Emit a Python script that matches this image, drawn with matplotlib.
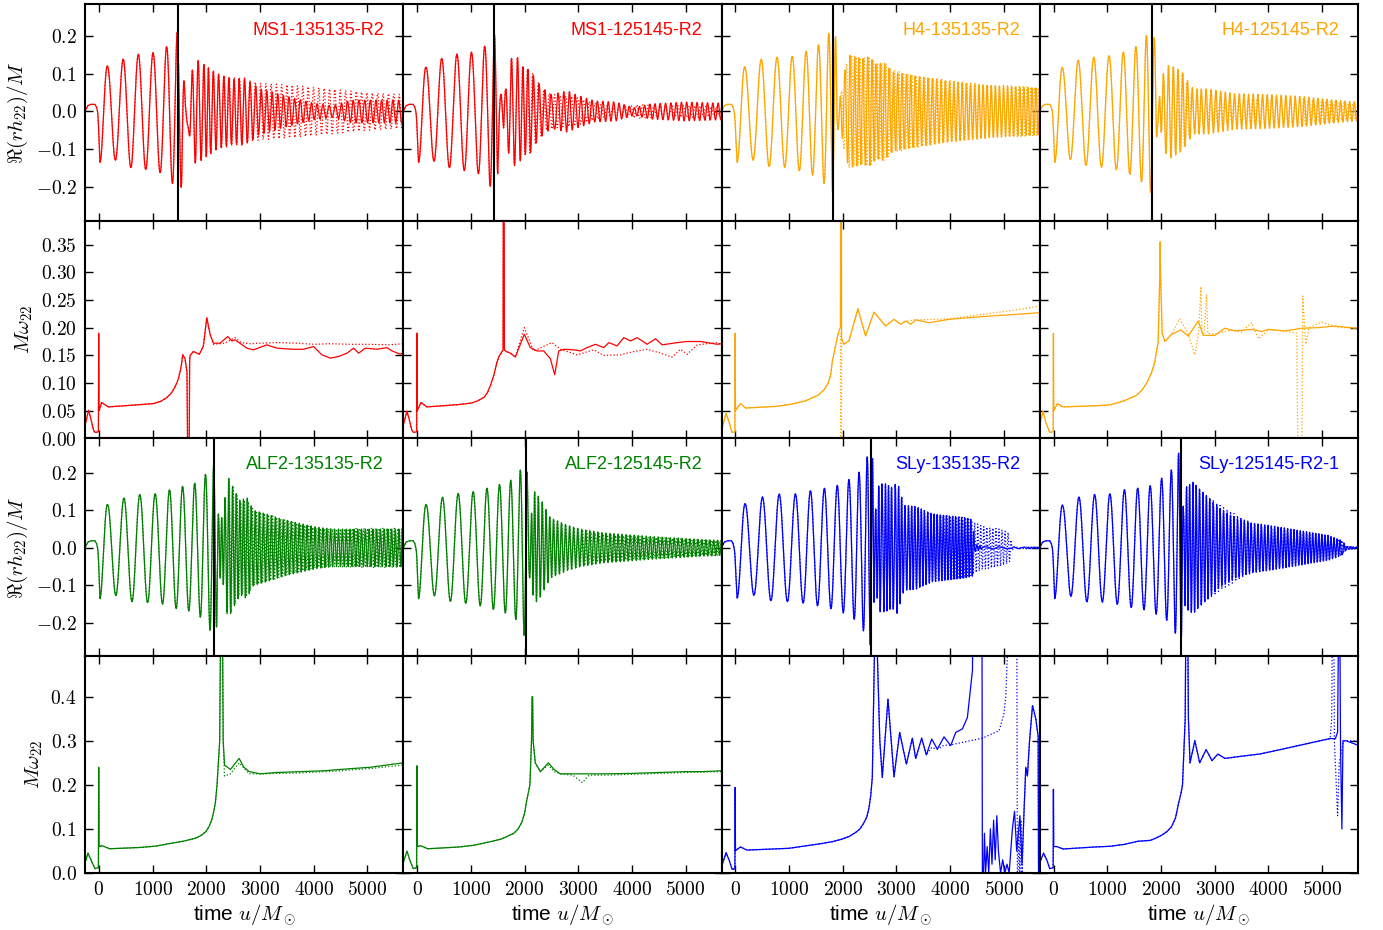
import numpy as np
import matplotlib
matplotlib.use("Agg")
import matplotlib.pyplot as plt
from matplotlib.ticker import FuncFormatter, MultipleLocator

plt.rcParams['font.family'] = ['Liberation Sans', 'DejaVu Sans']
plt.rcParams['mathtext.fontset'] = 'cm'

M_TOTAL = 2.7  # total mass in M_sun, converts M*omega to 1/M_sun

# ---------------- data ----------------
# common junk-radiation precursor of Re(r h22)/M (t, value)
precursor = [(-260, 0.0), (-212, 0.015), (-150, 0.019), (-75, 0.019), (-45, 0.012), (-25, 0.0)]

# ---- MS1-135135-R2 ----
ms1a_w_hi = [(-260, 0.024), (-193, 0.051), (-150, 0.035), (-100, 0.015), (-75, 0.011), (-10, 0.012), (-5, 0.19),
             (0, 0.05), (10, 0.052), (50, 0.065), (174, 0.057), (749, 0.061), (1022, 0.063), (1150, 0.067),
             (1265, 0.074), (1340, 0.081), (1400, 0.09), (1445, 0.099), (1480, 0.108), (1515, 0.122), (1540, 0.135),
             (1560, 0.151), (1604, 0.144), (1640, 0.12), (1655, -0.05),
             (1680, -0.05), (1690, 0.14), (1698, 0.15), (1760, 0.157), (1871, 0.152), (1946, 0.167), (2009, 0.218),
             (2071, 0.188), (2133, 0.172), (2257, 0.172), (2401, 0.184), (2476, 0.176), (2537, 0.178), (2755, 0.163),
             (2879, 0.160), (3128, 0.169), (3315, 0.163), (3625, 0.161), (3812, 0.161), (3998, 0.166), (4154, 0.151),
             (4310, 0.145), (4465, 0.148), (4621, 0.154), (4745, 0.163), (4838, 0.154), (4963, 0.163), (5181, 0.161),
             (5367, 0.164), (5460, 0.158), (5616, 0.152), (5670, 0.155)]
ms1a_w_lo = [(2133, 0.170), (2257, 0.171), (2350, 0.172), (2450, 0.178), (2537, 0.182), (2650, 0.173), (2800, 0.171),
             (3000, 0.172), (3300, 0.173), (3700, 0.172), (4000, 0.170), (4300, 0.171), (4700, 0.170), (5000, 0.170),
             (5400, 0.169), (5670, 0.171)]
ms1a_a_hi = [(-25, 0.0), (19, 0.135), (162, 0.12), (317, 0.13), (466, 0.14), (610, 0.15), (752, 0.152), (888, 0.154),
             (1026, 0.156), (1157, 0.163), (1262, 0.172), (1373, 0.192), (1448, 0.212), (1542, 0.2), (1570, 0.12),
             (1610, 0.03), (1660, 0.04), (1720, 0.1), (1800, 0.14), (1900, 0.13), (2000, 0.12), (2200, 0.1),
             (2500, 0.085), (2700, 0.09), (3000, 0.06), (3500, 0.04), (4000, 0.022), (4350, 0.015), (4700, 0.03),
             (5200, 0.03), (5670, 0.03)]
ms1a_a_lo = [(2000, 0.12), (2200, 0.1), (2500, 0.09), (2700, 0.085), (3000, 0.075), (3600, 0.07), (4300, 0.06),
             (5000, 0.05), (5670, 0.045)]

# ---- MS1-125145-R2 ----
ms1b_w_hi = [(-260, 0.024), (-192, 0.049), (-150, 0.035), (-100, 0.015), (-69, 0.011), (-10, 0.012), (-5, 0.19),
             (0, 0.05), (10, 0.052), (69, 0.065), (181, 0.057), (750, 0.061), (1014, 0.064), (1130, 0.068),
             (1253, 0.075), (1310, 0.083), (1362, 0.095), (1430, 0.115), (1487, 0.138), (1530, 0.149),
             (1562, 0.154), (1600, 0.16), (1607, 0.6), (1618, 0.6), (1625, 0.16),
             (1660, 0.157), (1735, 0.154), (1828, 0.147), (1996, 0.188), (2108, 0.164), (2233, 0.158), (2357, 0.158),
             (2481, 0.144), (2562, 0.115), (2637, 0.158), (2731, 0.161), (2917, 0.160), (3041, 0.158), (3166, 0.164),
             (3321, 0.170), (3476, 0.164), (3570, 0.173), (3725, 0.167), (3849, 0.182), (3974, 0.176), (4098, 0.182),
             (4285, 0.170), (4440, 0.18), (4564, 0.169), (4844, 0.173), (5030, 0.175), (5280, 0.175), (5591, 0.170),
             (5670, 0.171)]
ms1b_w_lo = [(1996, 0.2), (2170, 0.158), (2512, 0.173), (2668, 0.161), (2979, 0.151), (3290, 0.160), (3470, 0.15),
             (3787, 0.151), (4036, 0.157), (4285, 0.161), (4502, 0.155), (4751, 0.147), (4907, 0.161), (5030, 0.152),
             (5218, 0.169), (5591, 0.173), (5670, 0.17)]
ms1b_a_hi = [(-25, 0.0), (25, 0.135), (168, 0.117), (323, 0.133), (479, 0.142), (616, 0.15), (752, 0.152), (883, 0.157),
             (1020, 0.157), (1144, 0.165), (1269, 0.174), (1362, 0.199), (1455, 0.205), (1499, 0.17), (1530, 0.05),
             (1600, 0.04), (1650, 0.06), (1735, 0.14), (1860, 0.145), (1985, 0.115), (2109, 0.11), (2233, 0.08),
             (2358, 0.06), (2500, 0.045), (2800, 0.055), (2950, 0.045), (3300, 0.028), (3700, 0.025), (4036, 0.01),
             (4350, 0.02), (5000, 0.025), (5670, 0.022)]
ms1b_a_lo = [(2109, 0.11), (2233, 0.08), (2400, 0.05), (2700, 0.04), (2900, 0.04), (3300, 0.022), (3700, 0.01),
             (4100, 0.018), (4600, 0.015), (5200, 0.015), (5670, 0.012)]

# ---- H4-135135-R2 ----
h4a_w_hi = [(-260, 0.015), (-174, 0.045), (-120, 0.03), (-62, 0.011), (-10, 0.012), (-5, 0.19), (0, 0.05), (10, 0.052),
            (93, 0.063), (187, 0.055), (768, 0.058), (1048, 0.062), (1306, 0.068), (1540, 0.078), (1650, 0.088),
            (1730, 0.10), (1775, 0.115), (1803, 0.138), (1860, 0.165), (1915, 0.19), (1955, 0.2), (1962, 0.6),
            (1970, 0.6), (1978, 0.18), (2021, 0.17),
            (2114, 0.176), (2282, 0.234), (2425, 0.185), (2581, 0.228), (2799, 0.203), (2954, 0.215), (3078, 0.206),
            (3172, 0.212), (3265, 0.206), (3358, 0.214), (3607, 0.209), (3980, 0.215), (4602, 0.22), (5224, 0.224),
            (5670, 0.227)]
h4a_w_lo = [(1955, 0.19), (1962, -0.3), (1970, -0.3), (1978, 0.18), (2021, 0.17), (2114, 0.176), (2282, 0.234),
            (2425, 0.185), (2581, 0.228), (2799, 0.203), (2954, 0.215), (3078, 0.206), (3172, 0.212), (3358, 0.214),
            (3980, 0.216), (4602, 0.224), (5224, 0.232), (5670, 0.239)]
h4a_a_hi = [(-25, 0.0), (31, 0.135), (187, 0.117), (342, 0.13), (485, 0.139), (622, 0.146), (778, 0.144), (914, 0.148),
            (1057, 0.146), (1182, 0.157), (1306, 0.159), (1431, 0.168), (1555, 0.177), (1648, 0.19), (1754, 0.21),
            (1815, 0.217), (1872, 0.195), (1900, 0.05), (1960, 0.04), (2021, 0.1), (2114, 0.15), (2364, 0.14),
            (2488, 0.146), (2631, 0.125), (2768, 0.13), (2923, 0.105), (3358, 0.094), (3980, 0.08), (4602, 0.07),
            (5670, 0.062)]
h4a_a_lo = [(2631, 0.125), (2768, 0.13), (2923, 0.11), (3358, 0.095), (3980, 0.082), (4602, 0.072), (5670, 0.063)]

# ---- H4-125145-R2 ----
h4b_w_hi = [(-260, 0.024), (-199, 0.049), (-150, 0.03), (-75, 0.011), (-10, 0.012), (-5, 0.19), (0, 0.05), (10, 0.052),
            (68, 0.063), (170, 0.057), (765, 0.059), (1048, 0.0606), (1312, 0.068), (1545, 0.078), (1650, 0.088),
            (1738, 0.101), (1820, 0.118), (1884, 0.138), (1920, 0.16), (1946, 0.173), (1978, 0.3), (1984, 0.355),
            (1990, 0.3), (2021, 0.19), (2071, 0.175),
            (2196, 0.188), (2369, 0.196), (2506, 0.185), (2693, 0.212), (2786, 0.186), (3004, 0.186), (3190, 0.199),
            (3377, 0.194), (3688, 0.197), (3875, 0.193), (3998, 0.197), (4310, 0.194), (4621, 0.199), (4932, 0.2),
            (5243, 0.203), (5616, 0.199), (5670, 0.2)]
h4b_w_lo = [(2351, 0.216), (2500, 0.19), (2631, 0.151), (2700, 0.19), (2743, 0.274), (2760, 0.19), (2800, 0.19),
            (2848, 0.26), (2870, 0.19), (3000, 0.188), (3300, 0.196), (3500, 0.192), (3688, 0.209), (3813, 0.18),
            (4000, 0.196), (4300, 0.194), (4530, 0.19), (4570, -0.3), (4610, -0.3), (4640, 0.257), (4695, 0.17),
            (4760, 0.2), (4994, 0.21), (5300, 0.2), (5670, 0.2)]
h4b_a_hi = [(-25, 0.0), (19, 0.135), (174, 0.115), (317, 0.128), (472, 0.137), (622, 0.144), (765, 0.144), (908, 0.148),
            (1057, 0.148), (1188, 0.155), (1312, 0.158), (1437, 0.168), (1543, 0.173), (1654, 0.189), (1748, 0.205),
            (1822, 0.217), (1897, 0.186), (1930, 0.04), (1990, 0.04), (2040, 0.1), (2152, 0.125), (2332, 0.11),
            (2413, 0.1), (2600, 0.06), (2873, 0.06), (3377, 0.047), (3998, 0.045), (4621, 0.04), (5243, 0.03),
            (5670, 0.025)]
h4b_a_lo = [(2413, 0.1), (2550, 0.05), (2900, 0.035), (3400, 0.03), (4000, 0.035), (4621, 0.035), (5243, 0.025),
            (5670, 0.02)]

# ---- ALF2-135135-R2 ----
alfa_w_hi = [(-260, 0.023), (-205, 0.045), (-150, 0.03), (-75, 0.01), (-10, 0.012), (-5, 0.24), (0, 0.06), (10, 0.06),
             (60, 0.062), (200, 0.055), (775, 0.058), (1060, 0.061), (1325, 0.067), (1567, 0.072), (1800, 0.079),
             (1900, 0.085), (1993, 0.094), (2050, 0.105), (2100, 0.12), (2140, 0.14), (2170, 0.16), (2200, 0.2),
             (2250, 0.3), (2275, 0.7), (2295, 0.7),
             (2315, 0.3), (2340, 0.245), (2450, 0.235), (2612, 0.26), (2700, 0.24), (2800, 0.23), (3004, 0.225),
             (3300, 0.228), (3750, 0.23), (4200, 0.232), (4496, 0.235), (5056, 0.24), (5670, 0.25)]
alfa_w_lo = [(2340, 0.22), (2450, 0.225), (2612, 0.25), (2800, 0.225), (3004, 0.225), (3750, 0.227), (4496, 0.232),
             (5056, 0.237), (5670, 0.245)]
alfa_a_hi = [(-25, 0.0), (19, 0.135), (162, 0.115), (330, 0.128), (473, 0.133), (628, 0.144), (777, 0.142), (921, 0.146),
             (1057, 0.144), (1200, 0.15), (1325, 0.155), (1449, 0.162), (1573, 0.164), (1685, 0.168), (1810, 0.173),
             (1903, 0.186), (1996, 0.197), (2083, 0.224), (2146, 0.22), (2195, 0.21), (2230, 0.08), (2300, 0.08),
             (2400, 0.19), (2537, 0.15), (2631, 0.125), (2755, 0.135), (2879, 0.1), (3128, 0.09), (3439, 0.075),
             (3750, 0.065), (4061, 0.055), (4372, 0.05), (5000, 0.05), (5670, 0.05)]
alfa_a_lo = [(2537, 0.15), (2631, 0.12), (2755, 0.13), (2879, 0.1), (3128, 0.09), (3439, 0.075), (3750, 0.063),
             (4061, 0.052), (4372, 0.05), (5000, 0.052), (5670, 0.052)]

# ---- ALF2-125145-R2 ----
alfb_w_hi = [(-260, 0.023), (-190, 0.05), (-140, 0.03), (-75, 0.01), (-10, 0.012), (-5, 0.243), (0, 0.06), (10, 0.06),
             (60, 0.062), (200, 0.055), (775, 0.059), (1060, 0.063), (1325, 0.07), (1567, 0.077), (1800, 0.09),
             (1880, 0.1), (1950, 0.115), (2000, 0.135), (2034, 0.16), (2100, 0.2), (2130, 0.3), (2140, 0.4),
             (2150, 0.4), (2160, 0.3), (2200, 0.25),
             (2295, 0.23), (2444, 0.25), (2550, 0.235), (2668, 0.225), (3000, 0.225), (3500, 0.225), (4000, 0.226),
             (4500, 0.228), (5000, 0.23), (5336, 0.23), (5670, 0.232)]
alfb_w_lo = [(2444, 0.245), (2550, 0.23), (2668, 0.225), (2900, 0.222), (3078, 0.205), (3200, 0.222), (3500, 0.222),
             (4000, 0.224), (4500, 0.226), (5000, 0.228), (5670, 0.23)]
alfb_a_hi = [(-25, 0.0), (25, 0.135), (170, 0.115), (330, 0.128), (480, 0.135), (630, 0.143), (780, 0.145), (920, 0.148),
             (1060, 0.15), (1200, 0.155), (1330, 0.16), (1450, 0.165), (1570, 0.17), (1690, 0.175), (1800, 0.185),
             (1900, 0.2), (1960, 0.22), (2010, 0.24), (2050, 0.2), (2080, 0.08), (2120, 0.08), (2180, 0.15),
             (2300, 0.13), (2480, 0.08), (2800, 0.06), (3040, 0.05), (3470, 0.04), (4400, 0.03), (5336, 0.022),
             (5670, 0.02)]
alfb_a_lo = [(2300, 0.13), (2480, 0.08), (2800, 0.06), (3040, 0.05), (3470, 0.035), (4400, 0.028), (5336, 0.02),
             (5670, 0.02)]

# ---- SLy-135135-R2 ----
slya_w_hi = [(-260, 0.015), (-174, 0.046), (-120, 0.03), (-62, 0.008), (-10, 0.01), (-5, 0.194), (0, 0.05), (10, 0.052),
             (93, 0.059), (218, 0.052), (995, 0.056), (1617, 0.067), (1800, 0.071), (1990, 0.077), (2120, 0.083),
             (2239, 0.092), (2320, 0.1), (2394, 0.114), (2450, 0.128), (2488, 0.148), (2520, 0.175),
             (2550, 0.217), (2590, 0.5), (2600, 0.9), (2625, 0.9), (2643, 0.5), (2690, 0.3),
             (2736, 0.217), (2842, 0.395), (2954, 0.218), (3060, 0.319), (3185, 0.247), (3296, 0.306), (3358, 0.26),
             (3470, 0.306), (3557, 0.268), (3657, 0.304), (3762, 0.281), (3887, 0.309), (4011, 0.289), (4104, 0.319),
             (4229, 0.327), (4322, 0.353), (4416, 0.46), (4447, 0.9), (4590, 0.9), (4602, -0.1), (4640, 0.09),
             (4660, 0.0), (4690, 0.06), (4720, 0.0), (4750, 0.1), (4780, 0.02), (4810, 0.12), (4840, 0.03),
             (4870, 0.13), (4900, 0.05), (4940, 0.0), (4980, 0.03), (5020, 0.0), (5060, 0.02), (5100, 0.0),
             (5160, 0.1), (5200, 0.14), (5240, 0.05), (5300, 0.13), (5340, 0.02), (5380, 0.15), (5410, 0.24),
             (5440, 0.22), (5480, 0.3), (5535, 0.38), (5597, 0.35), (5640, 0.31), (5650, -0.1), (5670, -0.1)]
slya_w_lo = [(3657, 0.285), (3762, 0.281), (3887, 0.29), (3980, 0.29), (4291, 0.298), (4602, 0.306), (4913, 0.323),
             (5000, 0.36), (5037, 0.4), (5100, 0.6), (5200, 0.9), (5240, 0.7), (5255, -0.1), (5280, 0.1), (5300, 0.0),
             (5320, 0.12), (5340, 0.0), (5380, 0.15), (5410, 0.24), (5440, 0.22), (5480, 0.3), (5535, 0.38),
             (5597, 0.35), (5640, 0.31), (5650, -0.1), (5670, -0.1)]
slya_a_hi = [(-25, 0.0), (31, 0.134), (187, 0.117), (342, 0.126), (498, 0.135), (640, 0.14), (790, 0.143), (933, 0.143),
             (1076, 0.143), (1225, 0.145), (1356, 0.152), (1493, 0.152), (1617, 0.158), (1741, 0.16), (1853, 0.165),
             (1972, 0.169), (2071, 0.179), (2177, 0.187), (2270, 0.195), (2351, 0.211), (2438, 0.236), (2500, 0.26),
             (2550, 0.252), (2600, 0.09), (2674, 0.17), (2799, 0.17), (2923, 0.16), (3016, 0.175), (3141, 0.113),
             (3358, 0.11), (3669, 0.09), (3980, 0.085), (4291, 0.08), (4420, 0.075), (4460, 0.01), (4600, 0.003),
             (5670, 0.002)]
slya_a_lo = [(3669, 0.09), (3980, 0.085), (4291, 0.08), (4602, 0.057), (4913, 0.05), (5100, 0.04), (5170, 0.002),
             (5670, 0.002)]

# ---- SLy-125145-R2-1 ----
slyb_w_hi = [(-260, 0.023), (-190, 0.045), (-130, 0.03), (-75, 0.01), (-10, 0.012), (-5, 0.19), (0, 0.06), (10, 0.06),
             (60, 0.06), (175, 0.0545), (765, 0.059), (1048, 0.0606), (1318, 0.065), (1567, 0.072), (1800, 0.074),
             (1920, 0.08), (2015, 0.086), (2110, 0.094), (2195, 0.105), (2270, 0.125), (2330, 0.16), (2370, 0.18),
             (2400, 0.2), (2450, 0.35), (2470, 0.7), (2490, 0.7),
             (2510, 0.35), (2540, 0.25), (2630, 0.3), (2720, 0.25), (2840, 0.28), (2950, 0.255), (3060, 0.27),
             (3190, 0.26), (3500, 0.265), (3840, 0.27), (4220, 0.28), (4590, 0.29), (4960, 0.3), (5150, 0.305),
             (5250, 0.305), (5290, 0.32), (5310, 0.6), (5330, 0.6), (5345, 0.28), (5370, 0.1), (5390, 0.3),
             (5450, 0.3), (5670, 0.29)]
slyb_w_lo = [(4960, 0.3), (5150, 0.305), (5180, 0.35), (5200, 0.7), (5215, 0.7), (5230, 0.3), (5290, 0.13),
             (5320, 0.25), (5400, 0.3), (5670, 0.3)]
slyb_a_hi = [(-25, 0.0), (19, 0.135), (174, 0.112), (330, 0.13), (472, 0.135), (622, 0.144), (765, 0.142), (908, 0.144),
             (1057, 0.144), (1188, 0.15), (1325, 0.155), (1449, 0.159), (1573, 0.159), (1685, 0.165), (1804, 0.165),
             (1916, 0.177), (2009, 0.185), (2114, 0.193), (2195, 0.208), (2276, 0.23), (2332, 0.254), (2382, 0.245),
             (2420, 0.09), (2450, 0.16), (2599, 0.175), (2693, 0.16), (2879, 0.135), (3128, 0.1), (3377, 0.08),
             (3688, 0.066), (3998, 0.06), (4621, 0.045), (5118, 0.033), (5367, 0.02), (5460, 0.004), (5670, 0.002)]
slyb_a_lo = [(2879, 0.135), (3128, 0.11), (3377, 0.09), (3688, 0.066), (3998, 0.06), (4621, 0.045), (5118, 0.033),
             (5367, 0.02), (5460, 0.004), (5670, 0.002)]

# ---- panel table ----
models = [
    dict(name='MS1-135135-R2', color='#ff0000', row=0, col=0, vline=1474, anchor=19,
         w_hi=ms1a_w_hi, w_lo=ms1a_w_lo, a_hi=ms1a_a_hi, a_lo=ms1a_a_lo),
    dict(name='MS1-125145-R2', color='#ff0000', row=0, col=1, vline=1437, anchor=25,
         w_hi=ms1b_w_hi, w_lo=ms1b_w_lo, a_hi=ms1b_a_hi, a_lo=ms1b_a_lo),
    dict(name='H4-135135-R2', color='#ffa500', row=0, col=2, vline=1822, anchor=31,
         w_hi=h4a_w_hi, w_lo=h4a_w_lo, a_hi=h4a_a_hi, a_lo=h4a_a_lo),
    dict(name='H4-125145-R2', color='#ffa500', row=0, col=3, vline=1828, anchor=19,
         w_hi=h4b_w_hi, w_lo=h4b_w_lo, a_hi=h4b_a_hi, a_lo=h4b_a_lo),
    dict(name='ALF2-135135-R2', color='#008000', row=2, col=0, vline=2152, anchor=19,
         w_hi=alfa_w_hi, w_lo=alfa_w_lo, a_hi=alfa_a_hi, a_lo=alfa_a_lo),
    dict(name='ALF2-125145-R2', color='#008000', row=2, col=1, vline=2034, anchor=25,
         w_hi=alfb_w_hi, w_lo=alfb_w_lo, a_hi=alfb_a_hi, a_lo=alfb_a_lo),
    dict(name='SLy-135135-R2', color='#0000ff', row=2, col=2, vline=2525, anchor=31,
         w_hi=slya_w_hi, w_lo=slya_w_lo, a_hi=slya_a_hi, a_lo=slya_a_lo),
    dict(name='SLy-125145-R2-1', color='#0000ff', row=2, col=3, vline=2363, anchor=19,
         w_hi=slyb_w_hi, w_lo=slyb_w_lo, a_hi=slyb_a_hi, a_lo=slyb_a_lo),
]

x_ticks = [0, 1000, 2000, 3000, 4000, 5000]
t_min, t_max = -260, 5670


def unzip(pts):
    a = np.asarray(pts, dtype=float)
    return a[:, 0], a[:, 1]


def merge(pre, post):
    tp, _ = unzip(post)
    return [p for p in pre if p[0] < tp[0]] + list(post)


def waveform(t, w_pts, a_pts, anchor):
    wt, wv = unzip(w_pts)
    om = np.clip(np.interp(t, wt, wv), 0.05, 0.3) / M_TOTAL
    ph = np.concatenate([[0.0], np.cumsum(0.5 * (om[1:] + om[:-1]) * np.diff(t))])
    ph = ph - np.interp(anchor, t, ph) + np.pi
    at, av = unzip(a_pts)
    amp = np.interp(t, at, av, left=0.0)
    pt, pv = unzip(precursor)
    pre = np.interp(t, pt, pv, right=0.0)
    return pre + amp * np.cos(ph)


fig, axes = plt.subplots(4, 4, figsize=(13.83, 9.30), dpi=100, sharex=True, sharey='row')
fig.subplots_adjust(left=85 / 1383, right=1358 / 1383, top=1 - 4 / 930, bottom=1 - 873 / 930,
                    wspace=0, hspace=0)

t = np.arange(t_min, t_max + 0.25, 0.5)
lw = 0.9
for m in models:
    axh = axes[m['row'], m['col']]
    axw = axes[m['row'] + 1, m['col']]
    w_lo_full = merge(m['w_hi'], m['w_lo'])
    a_lo_full = merge(m['a_hi'], m['a_lo'])
    h_hi = waveform(t, m['w_hi'], m['a_hi'], m['anchor'])
    h_lo = waveform(t, w_lo_full, a_lo_full, m['anchor'])
    axh.plot(t, h_hi, color=m['color'], lw=lw, ls='-')
    axh.plot(t, h_lo, color=m['color'], lw=lw, ls=':')
    axh.axvline(m['vline'], color='k', lw=1.5)
    axh.text(0.94, 0.88, m['name'], color=m['color'], fontsize=13, ha='right', va='center',
             transform=axh.transAxes)
    wt, wv = unzip(m['w_hi'])
    axw.plot(wt, wv, color=m['color'], lw=lw, ls='-')
    wt2, wv2 = unzip(w_lo_full)
    axw.plot(wt2, wv2, color=m['color'], lw=lw, ls=':')

ylims = [(-0.291, 0.285), (0.0, 0.392), (-0.287, 0.291), (0.0, 0.493)]
ysteps = [0.1, 0.05, 0.1, 0.1]
ydec = [1, 2, 1, 1]
ylabels = [r'$\Re(rh_{22})/M$', r'$M\omega_{22}$', r'$\Re(rh_{22})/M$', r'$M\omega_{22}$']

for r in range(4):
    for c in range(4):
        ax = axes[r, c]
        ax.set_xlim(t_min, t_max)
        ax.set_ylim(*ylims[r])
        ax.set_xticks(x_ticks)
        ax.yaxis.set_major_locator(MultipleLocator(ysteps[r]))
        ax.tick_params(direction='in', top=True, right=True, length=6, width=1.0, labelsize=14,
                       pad=6)
        for s in ax.spines.values():
            s.set_linewidth(1.5)
        ax.xaxis.set_major_formatter(FuncFormatter(lambda v, p: r'$%d$' % int(round(v))))
        d = ydec[r]
        ax.yaxis.set_major_formatter(FuncFormatter(lambda v, p, d=d: (r'$%.' + str(d) + 'f$') % (0.0 if abs(v) < 1e-9 else v)))
        if r == 3:
            ax.set_xlabel(r'time $u/M_\odot$', fontsize=15, labelpad=2)
    axes[r, 0].set_ylabel(ylabels[r], fontsize=15)

fig.savefig('out.png', dpi=100)
